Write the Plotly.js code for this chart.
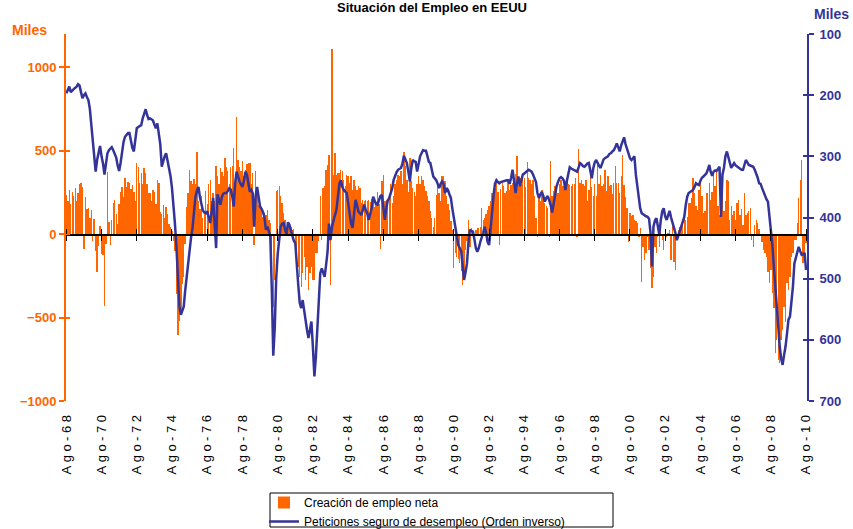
<!DOCTYPE html>
<html><head><meta charset="utf-8">
<script src="https://cdn.plot.ly/plotly-3.0.1.min.js"></script>
<style>html,body{margin:0;padding:0;background:#fff}#chart{width:853px;height:529px}</style>
</head><body><div id="chart"></div>
<script>
// Primer mes de la serie: agosto de 1968 (mensual hasta agosto de 2010)
const inicioAnio = 1968;
const inicioMes = 8;

// Creación de empleo neta (miles), mensual
const empleo = [
  234, 200, 264, 180, 254,                                        // 1968 (ago-dic)
  230, 274, 200, 244, 300, 304, 284, -86, 224, 150, 154, 100,     // 1969
  144, -40, 90, -100, -226, -70, 50, -116, -126, -432, -60, 374,  // 1970
  74, -66, 84, 184, 204, 120, 64, 180, 254, 284, 220, 334,        // 1971
  284, 314, 304, 270, 294, 254, 200, 424, 404, 304, 364, 300,     // 1972
  394, 364, 300, 244, 244, 200, 264, 254, 180, 324, 304, 134,     // 1973
  124, 174, 100, 164, 120, 64, 44, 20, -40, -100, -356, -606,     // 1974
  -520, -476, -300, -256, -60, 164, 244, 384, 320, 300, 330, 300, // 1975
  494, 200, 150, 230, 100, 120, 260, 180, 300, 326, 200, 246,     // 1976
  200, 406, 346, 300, 396, 370, 350, 456, 400, 380, 300, 400,     // 1977
  410, 516, 300, 702, 446, 400, 380, 436, 350, 386, 420, 426,     // 1978
  426, 300, 366, -64, 376, 250, 176, 186, 140, 106, 126, 116,     // 1979
  146, 86, 70, -154, -434, -274, 256, 266, 286, 226, 186, 126,    // 1980
  86, 46, 76, 50, 46, 26, 30, -74, -114, -194, -254, -314,        // 1981
  -234, -134, -274, -194, -334, -234, -194, -274, -274, -114, -114, -40, // 1982
  226, -34, 276, 286, 386, 416, 476, -304, 1112, 356, 486, 356,   // 1983
  366, 366, 386, 376, 326, 286, 356, 346, 306, 346, 266, 326,     // 1984
  286, 266, 286, 276, 186, 206, 200, 206, 196, 206, 190, 210,     // 1985
  216, 160, 190, 250, 180, -90, 316, 356, 196, 206, 206, 236,     // 1986
  300, 186, 226, 300, 326, 356, 346, 376, 300, 490, 406, 326,     // 1987
  250, 456, 316, 276, 250, 226, 300, 346, 300, 346, 326, 290,     // 1988
  256, 230, 196, 136, 100, 46, 100, 236, 286, 246, 200, 346,      // 1989
  346, 316, 226, 180, 146, 80, 26, -204, -114, -134, -150, -174,  // 1990
  -220, -304, -254, -94, -40, 86, -74, 36, 6, -20, 26, 36,        // 1991
  40, 46, 156, 86, 96, 120, 146, 170, 196, 246, 200, 276,         // 1992
  316, 250, -64, 270, 306, 286, 246, 260, 326, 266, 296, 306,     // 1993
  316, 360, 466, 286, 336, 300, 366, 336, 280, 430, 336, 326,     // 1994
  300, 326, 226, 100, -14, 236, 200, 266, 206, 186, 170, 156,     // 1995
  -14, 436, 226, 260, 286, 276, 246, 300, 326, 286, 290, 306,     // 1996
  316, 300, 296, 286, 300, 300, 336, -14, 510, 306, 326, 300,     // 1997
  286, 326, 200, 266, 366, 280, 226, 300, 226, 416, 300, 356,     // 1998
  286, 300, 386, 256, 346, 286, 296, 240, 306, 406, 306, 306,     // 1999
  246, 350, 476, 296, 220, 156, -44, 126, 110, 116, 86, 80,       // 2000
  66, -14, 40, -284, -74, -154, -114, -14, -94, -200, -324, -254, // 2001
  -74, -114, -14, -74, 40, -34, -94, 26, -14, 10, 26, -154,       // 2002
  90, -164, -214, -14, 26, 46, 56, 86, 146, 86, 106, 186,         // 2003
  186, 216, 336, 246, 166, 146, 266, 306, 226, 126, 136, 246,     // 2004
  246, 306, 206, 250, 366, 286, 376, 166, 116, 246, 306, 136,     // 2005
  200, 326, 316, 86, 166, 116, 136, 86, 186, 206, 116, 150,       // 2006
  56, 246, 116, 126, 140, 156, -34, -74, 56, 86, 66, 30,          // 2007
  -4, -44, -94, -114, -134, -224, -294, -214, -354, -444, -714, -634, // 2008
  -754, -774, -634, -574, -434, -524, -294, -334, -254, -134, -114, -34, // 2009
  -34, 66, 216, 326, 446, -175, -131, -54                          // 2010 (ene-ago)
];

// Peticiones de seguro de desempleo (miles), mensual, eje invertido
const peticiones = [
  197, 190, 186, 195, 192,                                        // 1968
  190, 188, 186, 182, 184, 195, 205, 200, 197, 203, 208, 222,     // 1969
  250, 268, 292, 325, 306, 296, 283, 300, 312, 330, 310, 295,     // 1970
  290, 287, 285, 290, 295, 302, 315, 324, 310, 290, 276, 268,     // 1971
  265, 262, 262, 276, 286, 292, 270, 254, 252, 250, 249, 238,     // 1972
  228, 223, 232, 239, 238, 240, 241, 248, 254, 246, 262, 280,     // 1973
  317, 306, 300, 295, 308, 317, 332, 352, 377, 410, 448, 502,     // 1974
  545, 559, 551, 546, 520, 497, 470, 448, 432, 417, 394, 366,     // 1975
  356, 350, 366, 378, 388, 392, 393, 390, 400, 409, 390, 368,     // 1976
  410, 450, 362, 372, 379, 366, 361, 360, 360, 357, 352, 354,     // 1977
  365, 382, 345, 325, 335, 341, 346, 350, 340, 325, 330, 345,     // 1978
  358, 355, 360, 415, 365, 350, 370, 382, 386, 391, 400, 420,     // 1979
  415, 425, 431, 518, 626, 580, 500, 460, 430, 415, 410, 409,     // 1980
  420, 428, 408, 412, 421, 431, 438, 442, 470, 510, 540, 548,     // 1981
  535, 555, 570, 584, 597, 580, 570, 612, 660, 628, 573, 530,     // 1982
  491, 483, 490, 497, 478, 456, 410, 437, 415, 404, 396, 388,     // 1983
  365, 345, 339, 350, 355, 358, 360, 376, 393, 410, 417, 395,     // 1984
  371, 380, 390, 393, 396, 388, 379, 388, 393, 404, 392, 385,     // 1985
  366, 372, 378, 379, 372, 365, 363, 390, 404, 385, 372, 368,     // 1986
  360, 352, 339, 332, 326, 322, 320, 319, 312, 299, 305, 311,     // 1987
  325, 341, 320, 306, 308, 309, 325, 310, 300, 295, 290, 291,     // 1988
  291, 300, 309, 311, 322, 333, 336, 339, 345, 352, 345, 341,     // 1989
  345, 360, 352, 355, 362, 368, 385, 400, 420, 435, 445, 450,     // 1990
  455, 480, 502, 490, 475, 440, 420, 422, 423, 435, 450, 456,     // 1991
  450, 440, 434, 425, 415, 425, 440, 445, 420, 390, 365, 345,     // 1992
  339, 342, 344, 342, 341, 341, 340, 339, 339, 345, 335, 322,     // 1993
  340, 360, 345, 333, 349, 340, 330, 328, 325, 324, 322, 323,     // 1994
  325, 330, 336, 342, 360, 368, 362, 358, 365, 374, 368, 365,     // 1995
  372, 380, 392, 375, 360, 349, 342, 336, 334, 336, 340, 355,     // 1996
  340, 325, 318, 320, 321, 322, 324, 325, 318, 311, 313, 316,     // 1997
  317, 314, 312, 311, 325, 336, 320, 310, 306, 312, 316, 319,     // 1998
  310, 305, 303, 301, 300, 296, 295, 292, 290, 285, 279, 285,     // 1999
  292, 282, 276, 269, 280, 290, 295, 303, 306, 303, 300, 330,     // 2000
  350, 372, 385, 393, 395, 396, 398, 399, 402, 425, 480, 415,     // 2001
  405, 401, 412, 428, 405, 390, 385, 398, 404, 395, 389, 400,     // 2002
  409, 415, 425, 437, 430, 420, 415, 405, 399, 380, 366, 360,     // 2003
  358, 357, 355, 350, 344, 346, 347, 340, 335, 333, 330, 328,     // 2004
  322, 314, 325, 332, 325, 323, 324, 320, 317, 399, 330, 319,     // 2005
  300, 292, 300, 306, 319, 315, 311, 315, 317, 318, 320, 322,     // 2006
  322, 315, 306, 310, 314, 315, 316, 317, 322, 328, 335, 344,     // 2007
  345, 352, 358, 365, 370, 374, 395, 415, 445, 480, 515, 551,     // 2008
  590, 611, 630, 641, 625, 611, 590, 567, 562, 540, 513, 475,     // 2009
  464, 455, 448, 455, 461, 460, 458, 486                           // 2010
];

// Etiquetas del eje X (cada dos años, en agosto)
const tickFechas = ['1968-08-01','1970-08-01','1972-08-01','1974-08-01','1976-08-01','1978-08-01',
  '1980-08-01','1982-08-01','1984-08-01','1986-08-01','1988-08-01','1990-08-01','1992-08-01',
  '1994-08-01','1996-08-01','1998-08-01','2000-08-01','2002-08-01','2004-08-01','2006-08-01',
  '2008-08-01','2010-08-01'];
const tickEtiquetas = ['Ago-68','Ago-70','Ago-72','Ago-74','Ago-76','Ago-78','Ago-80','Ago-82',
  'Ago-84','Ago-86','Ago-88','Ago-90','Ago-92','Ago-94','Ago-96','Ago-98','Ago-00','Ago-02',
  'Ago-04','Ago-06','Ago-08','Ago-10'];
const ticksIzq = [-1000, -500, 0, 500, 1000];
const ticksDer = [100, 200, 300, 400, 500, 600, 700];

const meses = empleo.map((_, i) => {
  const t = (inicioMes - 1) + i;
  const y = inicioAnio + Math.floor(t / 12);
  const m = (t % 12) + 1;
  return y + '-' + String(m).padStart(2, '0') + '-01';
});

const NAR = '#FF6600', AZUL = '#333399';
const FONT = 'Liberation Sans, Arial, sans-serif';
const xRange = ['1968-07-25', '2010-08-20'];
const rangoIzq = [-1000, 1200];
const rangoDer = [700, 100];

const traces = [
  {type: 'bar', x: meses, y: empleo, name: 'Creación de empleo neta',
   marker: {color: NAR, line: {width: 0}}, xaxis: 'x', yaxis: 'y'},
  {type: 'scatter', mode: 'lines', x: meses, y: peticiones,
   name: 'Peticiones seguro de desempleo (Orden inverso)',
   line: {color: AZUL, width: 2.5}, xaxis: 'x', yaxis: 'y2'},
  {type: 'scatter', x: [], y: [], xaxis: 'x2', yaxis: 'y', showlegend: false, hoverinfo: 'skip'},
  {type: 'scatter', x: [], y: [], xaxis: 'x3', yaxis: 'y', showlegend: false, hoverinfo: 'skip'},
  {type: 'scatter', x: [], y: [], xaxis: 'x', yaxis: 'y3', showlegend: false, hoverinfo: 'skip'},
  {type: 'scatter', x: [], y: [], xaxis: 'x', yaxis: 'y4', showlegend: false, hoverinfo: 'skip'}
];

const zeroPos = (0 - rangoIzq[0]) / (rangoIzq[1] - rangoIzq[0]);
const L = 66, R = 807, T = 34, B = 401;
const px = v => (v - L) / (R - L);
const py = v => (B - v) / (B - T);

const layout = {
  width: 853, height: 529,
  margin: {l: L, r: 853 - R, t: T, b: 529 - B, pad: 0, autoexpand: false},
  paper_bgcolor: '#fff', plot_bgcolor: '#fff',
  bargap: 0,
  showlegend: true,
  font: {family: FONT, size: 12, color: '#000'},
  title: {text: 'Situación del Empleo en EEUU', font: {family: FONT, size: 13, color: '#000', weight: 'bold'},
          xref: 'paper', x: px(432), xanchor: 'center', yref: 'container', y: 1 - 7 / 529, yanchor: 'middle',
          pad: {t: 0, b: 0}},
  xaxis: {type: 'date', range: xRange, tickmode: 'array', tickvals: tickFechas, ticktext: tickEtiquetas,
          tickangle: -90, ticks: '', showline: false, showgrid: false, zeroline: false, automargin: false,
          tickfont: {family: FONT, size: 13, color: '#000'}, ticklabelstandoff: 7},
  xaxis2: {type: 'date', overlaying: 'x', range: xRange, anchor: 'free', position: zeroPos, side: 'bottom',
           showline: true, linecolor: '#000', linewidth: 1.5, ticks: 'outside', ticklen: 5, tickwidth: 1,
           tickcolor: '#000', tickmode: 'array', tickvals: tickFechas, showticklabels: false,
           showgrid: false, zeroline: false},
  xaxis3: {type: 'date', overlaying: 'x', range: xRange, anchor: 'free', position: zeroPos, side: 'top',
           showline: false, ticks: 'outside', ticklen: 5, tickwidth: 1, tickcolor: '#000',
           tickmode: 'array', tickvals: tickFechas, showticklabels: false, showgrid: false, zeroline: false},
  yaxis: {range: rangoIzq, tickmode: 'array', tickvals: ticksIzq, ticks: 'outside', ticklen: 5, tickwidth: 2,
          tickcolor: NAR, showline: true, linecolor: NAR, linewidth: 2, showgrid: false, zeroline: false,
          automargin: false, tickfont: {family: FONT, size: 13, color: NAR, weight: 'bold'}},
  yaxis2: {overlaying: 'y', side: 'right', range: rangoDer, tickmode: 'array', tickvals: ticksDer,
           ticks: 'outside', ticklen: 5, tickwidth: 2, tickcolor: AZUL, showline: true, linecolor: AZUL,
           linewidth: 2, showgrid: false, zeroline: false, ticklabelstandoff: 3, automargin: false,
           tickfont: {family: FONT, size: 13, color: AZUL, weight: 'bold'}},
  yaxis3: {overlaying: 'y', side: 'left', range: rangoIzq, tickmode: 'array', tickvals: ticksIzq,
           ticks: 'inside', ticklen: 4, tickwidth: 2, tickcolor: NAR, showticklabels: false,
           showline: false, showgrid: false, zeroline: false},
  yaxis4: {overlaying: 'y', side: 'right', range: rangoDer, tickmode: 'array', tickvals: ticksDer,
           ticks: 'inside', ticklen: 4, tickwidth: 2, tickcolor: AZUL, showticklabels: false,
           showline: false, showgrid: false, zeroline: false},
  legend: {x: px(264), xanchor: 'left', y: py(488), yanchor: 'top', bgcolor: 'rgba(0,0,0,0)',
           borderwidth: 0, font: {family: FONT, size: 12, color: '#000'}, tracegroupgap: 0},
  shapes: [
    {type: 'rect', xref: 'paper', yref: 'paper', x0: px(270), x1: px(613), y0: py(527), y1: py(493),
     line: {color: '#000', width: 1}, fillcolor: 'rgba(0,0,0,0)', layer: 'below'}
  ],
  annotations: [
    {text: 'Miles', xref: 'paper', yref: 'paper', x: px(29.5), y: py(30), xanchor: 'center', yanchor: 'middle',
     showarrow: false, font: {family: FONT, size: 14, color: NAR, weight: 'bold'}},
    {text: 'Miles', xref: 'paper', yref: 'paper', x: px(831), y: py(14), xanchor: 'center', yanchor: 'middle',
     showarrow: false, font: {family: FONT, size: 14, color: AZUL, weight: 'bold'}}
  ]
};

Plotly.newPlot('chart', traces, layout, {displayModeBar: false, staticPlot: true}).then(() => {
  document.querySelectorAll('.xtick text').forEach(t => { t.style.letterSpacing = '3.5px'; });
});
</script>
</body></html>
